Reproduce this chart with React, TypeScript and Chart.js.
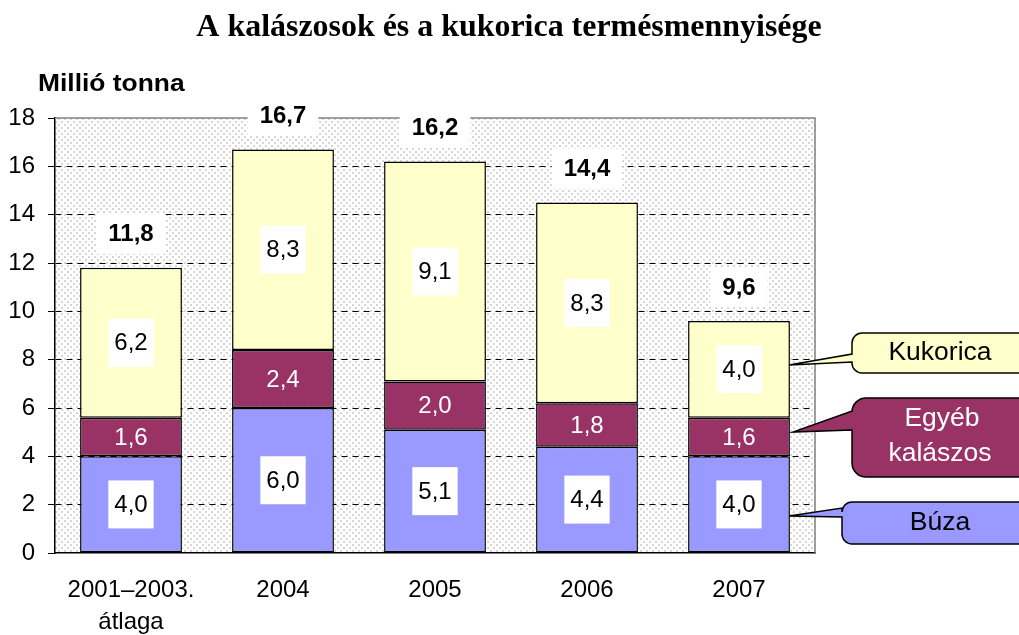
import React, { useEffect, useRef } from "react";
import { Chart, registerables } from "chart.js";

Chart.register(...registerables);

const categories: (string | string[])[] = [["2001–2003.", "átlaga"], "2004", "2005", "2006", "2007"];
const buza = [4.0, 6.0, 5.1, 4.4, 4.0];
const egyeb = [1.6, 2.4, 2.0, 1.8, 1.6];
const kukorica = [6.2, 8.3, 9.1, 8.3, 4.0];
const totals = [11.8, 16.7, 16.2, 14.4, 9.6];
const seriesNames = ["Búza", "Egyéb kalászos", "Kukorica"];
const yMin = 0;
const yMax = 18;
const yStep = 2;

const TITLE = "A kalászosok és a kukorica termésmennyisége";
const UNIT = "Millió tonna";

const COL_BUZA = "#9999FF";
const COL_EGYEB = "#993366";
const COL_KUK = "#FFFFCC";
const SANS = "'Liberation Sans', Arial, sans-serif";

const fmt = (v: number) => v.toFixed(1).replace(".", ",");

function makePattern(ctx: CanvasRenderingContext2D) {
  const c = document.createElement("canvas");
  c.width = 6;
  c.height = 6;
  const p = c.getContext("2d")!;
  p.fillStyle = "#ffffff";
  p.fillRect(0, 0, 6, 6);
  p.fillStyle = "#d6d6d6";
  p.fillRect(1, 1, 2, 2);
  p.fillRect(4, 4, 2, 2);
  return ctx.createPattern(c, "repeat");
}

function stretchText(ctx: CanvasRenderingContext2D, txt: string, x: number, y: number, sx: number) {
  ctx.save();
  ctx.translate(x, y);
  ctx.scale(sx, 1);
  ctx.fillText(txt, 0, 0);
  ctx.restore();
}

function calloutPath(
  ctx: CanvasRenderingContext2D,
  x: number, y: number, w: number, h: number, r: number,
  tipX: number, tipY: number, b1: number, b2: number
) {
  ctx.beginPath();
  ctx.moveTo(x + r, y);
  ctx.lineTo(x + w - r, y);
  ctx.arcTo(x + w, y, x + w, y + r, r);
  ctx.lineTo(x + w, y + h - r);
  ctx.arcTo(x + w, y + h, x + w - r, y + h, r);
  ctx.lineTo(x + r, y + h);
  ctx.arcTo(x, y + h, x, y + h - r, r);
  ctx.lineTo(x, b2);
  ctx.lineTo(tipX, tipY);
  ctx.lineTo(x, b1);
  ctx.lineTo(x, y + r);
  ctx.arcTo(x, y, x + r, y, r);
  ctx.closePath();
}

const decorPlugin = {
  id: "decor",
  beforeDraw(chart: any) {
    const { ctx, chartArea: a } = chart;
    ctx.save();
    ctx.fillStyle = "#ffffff";
    ctx.fillRect(0, 0, chart.width, chart.height);
    const pat = makePattern(ctx);
    if (pat) {
      ctx.fillStyle = pat;
      ctx.fillRect(a.left, a.top, a.right - a.left, a.bottom - a.top);
    }
    ctx.restore();
  },
  beforeDatasetsDraw(chart: any) {
    const { ctx, chartArea: a } = chart;
    ctx.save();
    ctx.strokeStyle = "#808080";
    ctx.lineWidth = 1.5;
    ctx.beginPath();
    ctx.moveTo(a.left, a.top);
    ctx.lineTo(a.right, a.top);
    ctx.lineTo(a.right, a.bottom);
    ctx.stroke();
    ctx.restore();
  },
  afterDraw(chart: any) {
    const { ctx } = chart;
    ctx.save();
    // title
    ctx.fillStyle = "#000";
    ctx.textAlign = "center";
    ctx.textBaseline = "middle";
    ctx.font = "bold 31px 'Liberation Serif', 'Times New Roman', serif";
    stretchText(ctx, TITLE, 509, 28, 1.03);
    // unit
    ctx.textAlign = "left";
    ctx.font = `bold 24px ${SANS}`;
    stretchText(ctx, UNIT, 38, 84, 1.1);

    // segment labels
    ctx.textAlign = "center";
    ctx.textBaseline = "middle";
    ctx.font = `24px ${SANS}`;
    chart.data.datasets.forEach((ds: any, i: number) => {
      const meta = chart.getDatasetMeta(i);
      meta.data.forEach((bar: any, j: number) => {
        const { x, y, base } = bar.getProps(["x", "y", "base"], true);
        const cy = (y + base) / 2;
        const txt = fmt(ds.data[j]);
        if (i === 1) {
          ctx.fillStyle = "#ffffff";
          ctx.fillText(txt, x, cy + 1);
        } else {
          const tw = ctx.measureText(txt).width;
          ctx.fillStyle = "#ffffff";
          ctx.fillRect(x - tw / 2 - 6, cy - 24, tw + 12, 48);
          ctx.fillStyle = "#000";
          ctx.fillText(txt, x, cy + 1);
        }
      });
    });

    // totals
    ctx.font = `bold 24px ${SANS}`;
    const topMeta = chart.getDatasetMeta(chart.data.datasets.length - 1);
    topMeta.data.forEach((bar: any, j: number) => {
      const { x, y } = bar.getProps(["x", "y"], true);
      const txt = fmt(totals[j]);
      const cy = y - 34;
      const tw = ctx.measureText(txt).width;
      ctx.fillStyle = "#ffffff";
      ctx.fillRect(x - tw / 2 - 12, cy - 20, tw + 24, 40);
      ctx.fillStyle = "#000";
      ctx.fillText(txt, x, cy + 1);
    });

    // callouts (legend)
    ctx.lineWidth = 1.5;
    ctx.strokeStyle = "#000";
    ctx.font = `25px ${SANS}`;
    // Kukorica
    calloutPath(ctx, 852, 333, 190, 40, 10, 789, 365, 354, 362);
    ctx.fillStyle = COL_KUK;
    ctx.fill();
    ctx.stroke();
    ctx.fillStyle = "#000";
    stretchText(ctx, seriesNames[2], 940, 353, 1.06);
    // Egyéb kalászos
    calloutPath(ctx, 852, 398, 190, 79, 14, 793, 432, 411, 430);
    ctx.fillStyle = COL_EGYEB;
    ctx.fill();
    ctx.stroke();
    ctx.fillStyle = "#fff";
    const parts = seriesNames[1].split(" ");
    stretchText(ctx, parts[0], 942, 419, 1.06);
    stretchText(ctx, parts[1], 940, 454, 1.06);
    // Búza
    calloutPath(ctx, 842, 502, 200, 42, 10, 789, 516, 508, 517);
    ctx.fillStyle = COL_BUZA;
    ctx.fill();
    ctx.stroke();
    ctx.fillStyle = "#000";
    stretchText(ctx, seriesNames[0], 940, 523, 1.06);

    ctx.restore();
  },
};

export default function App() {
  const ref = useRef<HTMLCanvasElement | null>(null);
  useEffect(() => {
    if (!ref.current) return;
    const chart = new Chart(ref.current, {
      type: "bar",
      data: {
        labels: categories,
        datasets: [
          { label: seriesNames[0], data: buza, backgroundColor: COL_BUZA, borderColor: "#000", borderWidth: 1.5, borderSkipped: false },
          { label: seriesNames[1], data: egyeb, backgroundColor: COL_EGYEB, borderColor: "#000", borderWidth: 1.5, borderSkipped: false },
          { label: seriesNames[2], data: kukorica, backgroundColor: COL_KUK, borderColor: "#000", borderWidth: 1.5, borderSkipped: false },
        ],
      },
      options: {
        responsive: false,
        animation: false,
        devicePixelRatio: 1,
        maintainAspectRatio: false,
        layout: { padding: { left: 0, top: 118, right: 204, bottom: 0 } },
        datasets: { bar: { barPercentage: 0.67, categoryPercentage: 1 } },
        plugins: { legend: { display: false }, tooltip: { enabled: false }, title: { display: false } },
        scales: {
          x: {
            stacked: true,
            grid: { display: false, drawTicks: false },
            border: { display: true, color: "#000", width: 1.5 },
            ticks: {
              color: "#000",
              padding: 21,
              maxRotation: 0,
              font: { family: SANS, size: 24, lineHeight: 1.33 },
            },
            afterFit(scale: any) { scale.height = 82; },
          },
          y: {
            stacked: true,
            min: yMin,
            max: yMax,
            ticks: {
              stepSize: yStep,
              color: "#000",
              padding: 13,
              font: { family: SANS, size: 24 },
              callback: (v: any) => String(v),
            },
            grid: {
              color: (c: any) => (c.tick && (c.tick.value === yMax || c.tick.value === yMin) ? "rgba(0,0,0,0)" : "#000"),
              tickColor: "#000",
              lineWidth: 1,
              tickLength: 7,
              tickBorderDash: [],
            },
            border: { display: true, color: "#000", width: 1.5, dash: [6, 5] },
            afterFit(scale: any) { scale.width = 55; },
          },
        },
      } as any,
      plugins: [decorPlugin],
    });
    return () => chart.destroy();
  }, []);
  return (
    <div style={{ position: "fixed", left: 0, top: 0, width: 1019, height: 635, background: "#fff" }}>
      <canvas ref={ref} width={1019} height={635} style={{ width: 1019, height: 635 }} />
    </div>
  );
}
